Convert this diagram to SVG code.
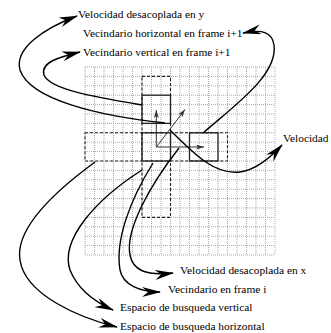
<svg xmlns="http://www.w3.org/2000/svg" width="331" height="333" viewBox="0 0 331 333">
<style>
.grid{fill:none;stroke:#a8a8a8;stroke-width:1;stroke-dasharray:1,1}
.box{fill:none;stroke:#222;stroke-width:1.3}
.dbox{fill:none;stroke:#222;stroke-width:1.1;stroke-dasharray:3,2}
.vec{fill:none;stroke:#333;stroke-width:1;marker-end:url(#sa)}
.con{fill:none;stroke:#000;stroke-width:1.4;marker-end:url(#la)}
text{font-family:"Liberation Serif","Times New Roman",serif;font-size:11.4px;fill:#000}
</style>
<defs>
<marker id="la" markerUnits="userSpaceOnUse" markerWidth="19" markerHeight="10" viewBox="0 0 19 10" refX="18" refY="5" orient="auto">
<path d="M0,0 L19,5 L0,10 L6,5 z" fill="#000"/>
</marker>
<marker id="sa" markerUnits="userSpaceOnUse" markerWidth="8" markerHeight="5" viewBox="0 0 8 5" refX="8" refY="2.5" orient="auto">
<path d="M0,0 L8,2.5 L0,5 L2,2.5 z" fill="#333"/>
</marker>
</defs>
<g id="grid">
<path class="grid" d="M85,67V255M94.5,67V255M104,67V255M113.5,67V255M123,67V255M132.5,67V255M142,67V255M151.5,67V255M161,67V255M170.5,67V255M180,67V255M189.5,67V255M199,67V255M208.5,67V255M218,67V255M227.5,67V255M237,67V255M246.5,67V255M256,67V255M265.5,67V255M275,67V255M85,67H275M85,76.4H275M85,85.8H275M85,95.2H275M85,104.6H275M85,114H275M85,123.4H275M85,132.8H275M85,142.2H275M85,151.6H275M85,161H275M85,170.4H275M85,179.8H275M85,189.2H275M85,198.6H275M85,208H275M85,217.4H275M85,226.8H275M85,236.2H275M85,245.6H275M85,255H275"/>
</g>
<g id="search-vertical"><rect class="dbox" x="142" y="76.4" width="28.5" height="141"/></g>
<g id="search-horizontal"><rect class="dbox" x="85" y="132.8" width="142.5" height="28.2"/></g>
<g id="neigh-i"><rect class="box" x="142" y="132.8" width="28.5" height="28.2"/></g>
<g id="neigh-vertical"><rect class="box" x="142" y="95.2" width="28.5" height="28.2"/></g>
<g id="neigh-horizontal"><rect class="box" x="189.5" y="132.8" width="28.5" height="28.2"/></g>
<g id="vectors">
<path class="vec" d="M156.3,147 V110"/>
<path class="vec" d="M156.3,147 H204"/>
<path class="vec" d="M156.3,147 L185,109.5"/>
</g>
<g id="connectors">
<path class="con" d="M165,123 C100,116 30,100 20,70 C14,48 45,28 77,16"/>
<path class="con" d="M142,105 C100,98 50,90 44,75 C40,62 60,57 80,52"/>
<path class="con" d="M203,133 C235,105 278,75 274,45 C272,32 262,29 243,33"/>
<path class="con" d="M170,130 C195,155 215,175 240,172 C255,170 270,158 282,145"/>
<path class="con" d="M179,148 C150,185 125,230 130,255 C133,270 145,276 173,273"/>
<path class="con" d="M153,163 C130,200 115,240 120,270 C123,285 140,292 160,292"/>
<path class="con" d="M142,170 C95,200 60,240 70,270 C78,290 95,302 113,310"/>
<path class="con" d="M95,162 C50,195 15,230 20,260 C25,295 80,318 117,327"/>
</g>
<g id="labels">
<text x="78" y="18">Velocidad desacoplada en y</text>
<text x="83" y="37">Vecindario horizontal en frame i+1</text>
<text x="83" y="56">Vecindario vertical en frame i+1</text>
<text x="283" y="142">Velocidad</text>
<text x="180" y="274">Velocidad desacoplada en x</text>
<text x="168" y="293">Vecindario en frame i</text>
<text x="120" y="311">Espacio de busqueda vertical</text>
<text x="120" y="330">Espacio de busqueda horizontal</text>
</g>
</svg>
